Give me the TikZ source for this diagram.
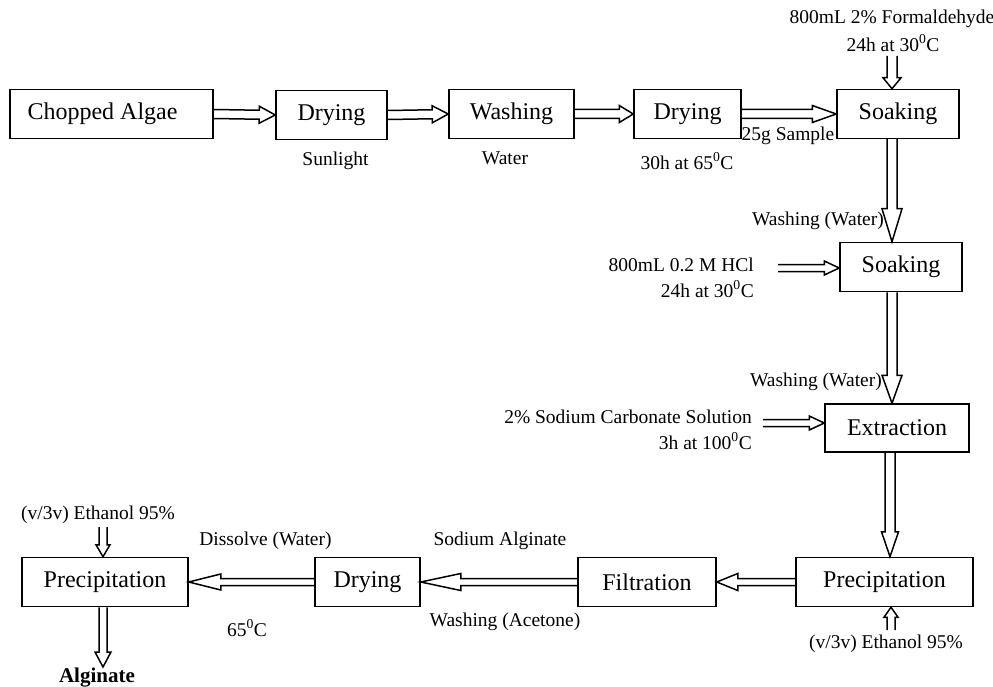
\documentclass[tikz,border=0pt]{standalone}
\usepackage{fontspec}
\setmainfont{Liberation Serif}
\usetikzlibrary{calc}
\tikzset{
  box/.style={draw, line width=1.5pt, minimum height=49pt, inner sep=0pt, font=\fontsize{24}{27}\selectfont},
  lbl/.style={inner sep=0pt, font=\fontsize{19.5}{23}\selectfont, align=center},
  hol/.style={line width=1.5pt, line join=miter}
}
\newcommand\hollow[5]{%
\draw[hol] let \p1=(#1), \p2=(#2), \n1={veclen(\x2-\x1,\y2-\y1)}, \n2={(\x2-\x1)/\n1}, \n3={(\y2-\y1)/\n1}, \n4={\n1-(#5)} in
({\x1-(#3)*\n3},{\y1+(#3)*\n2}) -- ({\x1+\n4*\n2-(#3)*\n3},{\y1+\n4*\n3+(#3)*\n2}) -- ({\x1+\n4*\n2-(#4)*\n3},{\y1+\n4*\n3+(#4)*\n2}) -- (\p2) -- ({\x1+\n4*\n2+(#4)*\n3},{\y1+\n4*\n3-(#4)*\n2}) -- ({\x1+\n4*\n2+(#3)*\n3},{\y1+\n4*\n3-(#3)*\n2}) -- ({\x1+(#3)*\n3},{\y1-(#3)*\n2});}
\newcommand\degc{\textsuperscript{0}C}
\begin{document}
\begin{tikzpicture}[x=1pt,y=-1pt]
\useasboundingbox (0,0) rectangle (993,687);
% boxes
\node[box, minimum width=203pt] (ca) at (111.5,114) {Chopped Algae\hspace*{18pt}};
\node[box, minimum width=111pt] (d1) at (331.5,115) {Drying};
\node[box, minimum width=125pt] (wa) at (511.5,114) {Washing};
\node[box, minimum width=107pt] (d2) at (687.5,114) {Drying};
\node[box, minimum width=122pt] (s1) at (898,114) {Soaking};
\node[box, minimum width=122pt] (s2) at (901,267) {Soaking};
\node[box, minimum width=144pt, minimum height=48pt] (ex) at (897,428) {Extraction};
\node[box, minimum width=177pt] (p1) at (884.5,582) {Precipitation};
\node[box, minimum width=138pt] (fi) at (647,582) {Filtration};
\node[box, minimum width=105pt] (d3) at (367.5,582) {Drying};
\node[box, minimum width=166pt] (p2) at (105,582) {Precipitation};
% coordinates for free ends and columns
\coordinate (fo) at (892,56);
\coordinate (colA) at (892,0);
\coordinate (hcl) at (778,268);
\coordinate (na) at (763,423);
\coordinate (colB) at (890,0);
\coordinate (eth1) at (891,630);
\coordinate (eth2) at (103,527);
\coordinate (alg) at (103,667);
% arrows
\hollow{ca.east}{d1.west}{4.5}{8.5}{16}
\hollow{d1.east}{wa.west}{4.5}{8.5}{16}
\hollow{wa.east}{d2.west}{4.5}{8.5}{14}
\hollow{d2.east}{s1.west}{4.5}{8.5}{24}
\hollow{fo}{fo |- s1.north}{5}{9}{11}
\hollow{colA |- s1.south}{colA |- s2.north}{5}{10}{33}
\hollow{hcl}{hcl -| s2.west}{3.5}{7}{15}
\hollow{colA |- s2.south}{colA |- ex.north}{5}{10}{28}
\hollow{na}{na -| ex.west}{3.5}{7}{15}
\hollow{colB |- ex.south}{colB |- p1.north}{5}{8.5}{25}
\hollow{eth1}{eth1 |- p1.south}{4}{7}{10}
\hollow{p1.west}{fi.east}{3.5}{8.5}{21}
\hollow{fi.west}{d3.east}{3.5}{8.5}{40}
\hollow{d3.west}{p2.east}{3.5}{8}{32}
\hollow{eth2}{eth2 |- p2.north}{4}{7}{12}
\hollow{alg |- p2.south}{alg}{4}{8}{15}
% labels
\node[lbl] (l1) at (335.5,161) {Sunlight};
\node[lbl] (l2) at (505,158) {Water};
\node[lbl] (l3) at (687,161) {30h at 65\degc};
\node[lbl] (l4) at (788,136) {25g Sample};
\node[lbl] (l5) at (892,19) {800mL 2\% Formaldehyde};
\node[lbl] (l6) at (893,43) {24h at 30\degc};
\node[lbl, anchor=east] (l7) at (884,221) {Washing (Water)};
\node[lbl, anchor=east] (l8) at (754,265) {800mL 0.2 M HCl};
\node[lbl, anchor=east] (l9) at (754,289) {24h at 30\degc};
\node[lbl, anchor=east] (l10) at (882,382) {Washing (Water)};
\node[lbl, anchor=east] (l11) at (752,417) {2\% Sodium Carbonate Solution};
\node[lbl, anchor=east] (l12) at (752,441) {3h at 100\degc};
\node[lbl] (l13) at (886,644) {(v/3v) Ethanol 95\%};
\node[lbl] (l14) at (500,541) {Sodium Alginate};
\node[lbl] (l15) at (505,622) {Washing (Acetone)};
\node[lbl] (l16) at (265.5,541) {Dissolve (Water)};
\node[lbl] (l17) at (247,628) {65\degc};
\node[lbl] (l18) at (98,515) {(v/3v) Ethanol 95\%};
\node[lbl, font=\fontsize{21}{24}\selectfont\bfseries] (l19) at (97,678) {Alginate};
\end{tikzpicture}
\end{document}
